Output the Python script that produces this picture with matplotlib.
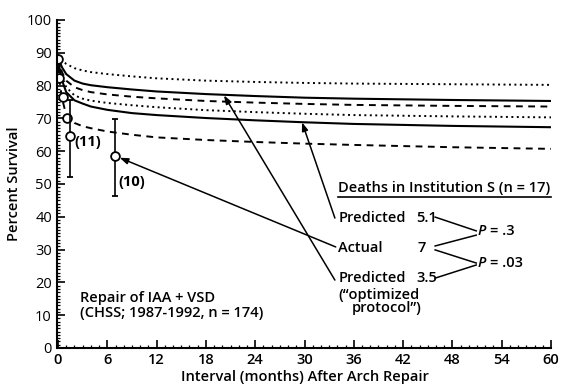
import matplotlib
matplotlib.use("Agg")
import matplotlib.pyplot as plt
from matplotlib.ticker import MultipleLocator

plt.rcParams['font.family'] = ['Open Sans', 'DejaVu Sans']

# ---- data ----
months = [0, 0.25, 0.5, 1, 2, 3, 4, 6, 9, 12, 18, 24, 30, 36, 48, 60]
upper_cl_high = [89.5, 88.5, 87.7, 86.6, 85.3, 84.6, 84.1, 83.5, 82.8, 82.2, 81.5, 81.1, 80.8, 80.6, 80.4, 80.2]
optimized = [89.0, 87.0, 85.5, 83.5, 81.5, 80.6, 80.1, 79.5, 78.8, 78.2, 77.4, 76.8, 76.3, 76.0, 75.6, 75.3]
optimized_cl_low = [88.5, 86.0, 84.0, 81.5, 79.5, 78.6, 78.0, 77.3, 76.6, 76.1, 75.3, 74.8, 74.4, 74.1, 73.8, 73.6]
predicted_cl_high = [88.0, 85.0, 82.5, 79.5, 77.0, 76.0, 75.4, 74.7, 74.0, 73.4, 72.5, 71.9, 71.4, 71.0, 70.6, 70.3]
predicted = [88.0, 84.5, 81.5, 78.0, 75.5, 74.5, 73.6, 72.6, 71.6, 71.0, 70.1, 69.4, 68.8, 68.3, 67.7, 67.3]
predicted_cl_low = [86.0, 80.0, 76.0, 71.0, 68.6, 67.6, 67.0, 66.0, 65.0, 64.2, 63.4, 62.8, 62.3, 61.9, 61.2, 60.7]

km_t = [0.0, 0.15, 0.55, 1.1]
km_s = [88.1, 82.3, 76.4, 70.2]
bar_t = [1.5, 6.9]
bar_s = [64.6, 58.5]
bar_lo = [52.2, 46.4]
bar_hi = [75.5, 69.8]
bar_n = ["(11)", "(10)"]

xticks = [0, 6, 12, 18, 24, 30, 36, 42, 48, 54, 60]
yticks = [0, 10, 20, 30, 40, 50, 60, 70, 80, 90, 100]

fig = plt.figure(figsize=(5.80, 3.91), dpi=100)
ax = fig.add_axes([0.1, 0.11, 0.85, 0.839])

K = 'black'
dot = (0, (1.0, 1.8))
dash = (0, (3.5, 2.8))
ax.plot(months, upper_cl_high, color=K, lw=1.4, linestyle=dot)
ax.plot(months, optimized, color=K, lw=1.5)
ax.plot(months, optimized_cl_low, color=K, lw=1.4, linestyle=dash)
ax.plot(months, predicted_cl_high, color=K, lw=1.4, linestyle=dot)
ax.plot(months, predicted, color=K, lw=1.5)
ax.plot(months, predicted_cl_low, color=K, lw=1.4, linestyle=dash)

ax.plot(km_t, km_s, 'o', mfc='white', mec=K, mew=1.3, ms=6.3)
for t, s, lo, hi, n in zip(bar_t, bar_s, bar_lo, bar_hi, bar_n):
    ax.errorbar([t], [s], yerr=[[s - lo], [hi - s]], fmt='o', mfc='white',
                mec=K, mew=1.3, ms=6.3, ecolor=K, elinewidth=1.2, capsize=2.5, capthick=1.0)
ax.text(bar_t[0] + 0.55, 62.8, bar_n[0], fontsize=10.5, fontweight='bold', va='center', ha='left')
ax.text(bar_t[1] + 0.4, 50.6, bar_n[1], fontsize=10.5, fontweight='bold', va='center', ha='left')

ax.set_xlim(0, 60)
ax.set_ylim(0, 100)
ax.set_xticks(xticks)
ax.set_yticks(yticks)
ax.xaxis.set_minor_locator(MultipleLocator(1))
ax.yaxis.set_minor_locator(MultipleLocator(1))
ax.tick_params(which='major', direction='in', length=6, width=1.2, labelsize=10.5)
ax.tick_params(which='minor', direction='in', length=2.5, width=0.9)
for lab in ax.get_xticklabels() + ax.get_yticklabels():
    lab.set_fontweight('semibold')
for s in ['top', 'right']:
    ax.spines[s].set_visible(False)
for s in ['left', 'bottom']:
    ax.spines[s].set_linewidth(1.5)
ax.spines['left'].set_position(('data', -0.15))

ax.set_xlabel('Interval (months) After Arch Repair', fontsize=10.5, fontweight='semibold', labelpad=2)
ax.set_ylabel('Percent Survival', fontsize=10.5, fontweight='semibold', labelpad=4)

fs = 10.5
fw = 'semibold'
ax.text(34.1, 48.8, 'Deaths in Institution S (n = 17)', fontsize=fs, fontweight=fw, va='center', ha='left')
ax.plot([34.1, 60], [46.0, 46.0], color=K, lw=1.2, clip_on=False)
ax.text(34.1, 39.6, 'Predicted', fontsize=fs, fontweight=fw, va='center', ha='left')
ax.text(43.6, 39.6, '5.1', fontsize=fs, fontweight=fw, va='center', ha='left')
ax.text(34.1, 30.5, 'Actual', fontsize=fs, fontweight=fw, va='center', ha='left')
ax.text(43.7, 30.5, '7', fontsize=fs, fontweight=fw, va='center', ha='left')
ax.text(34.1, 21.3, 'Predicted', fontsize=fs, fontweight=fw, va='center', ha='left')
ax.text(43.6, 21.3, '3.5', fontsize=fs, fontweight=fw, va='center', ha='left')
ax.text(34.1, 16.2, '(\u201coptimized', fontsize=fs, fontweight=fw, va='center', ha='left')
ax.text(35.8, 12.2, 'protocol\u201d)', fontsize=fs, fontweight=fw, va='center', ha='left')
ax.text(51.0, 35.7, 'P', fontsize=fs, fontweight=fw, style='italic', va='center', ha='left')
ax.text(52.6, 35.7, '= .3', fontsize=fs, fontweight=fw, va='center', ha='left')
ax.text(51.0, 25.9, 'P', fontsize=fs, fontweight=fw, style='italic', va='center', ha='left')
ax.text(52.6, 25.9, '= .03', fontsize=fs, fontweight=fw, va='center', ha='left')

for (x0, y0, x1, y1) in [(45.9, 39.9, 50.9, 35.7), (45.9, 31.1, 50.9, 34.4),
                         (45.9, 29.9, 50.9, 25.9), (45.9, 21.3, 50.9, 25.3)]:
    ax.plot([x0, x1], [y0, y1], color=K, lw=1.1)

ap = dict(arrowstyle='-|>,head_length=0.5,head_width=0.18', color=K, lw=1.1, shrinkA=0, shrinkB=0)
ax.annotate('', xy=(29.7, 68.8), xytext=(33.7, 39.6), arrowprops=ap)
ax.annotate('', xy=(7.5, 58.0), xytext=(33.8, 30.8), arrowprops=ap)
ax.annotate('', xy=(20.2, 77.0), xytext=(33.7, 20.7), arrowprops=ap)

ax.text(2.7, 15.2, 'Repair of IAA + VSD', fontsize=fs, fontweight=fw, va='center', ha='left')
ax.text(2.7, 10.7, '(CHSS; 1987-1992, n = 174)', fontsize=fs, fontweight=fw, va='center', ha='left')

fig.savefig('out.png', dpi=100)
